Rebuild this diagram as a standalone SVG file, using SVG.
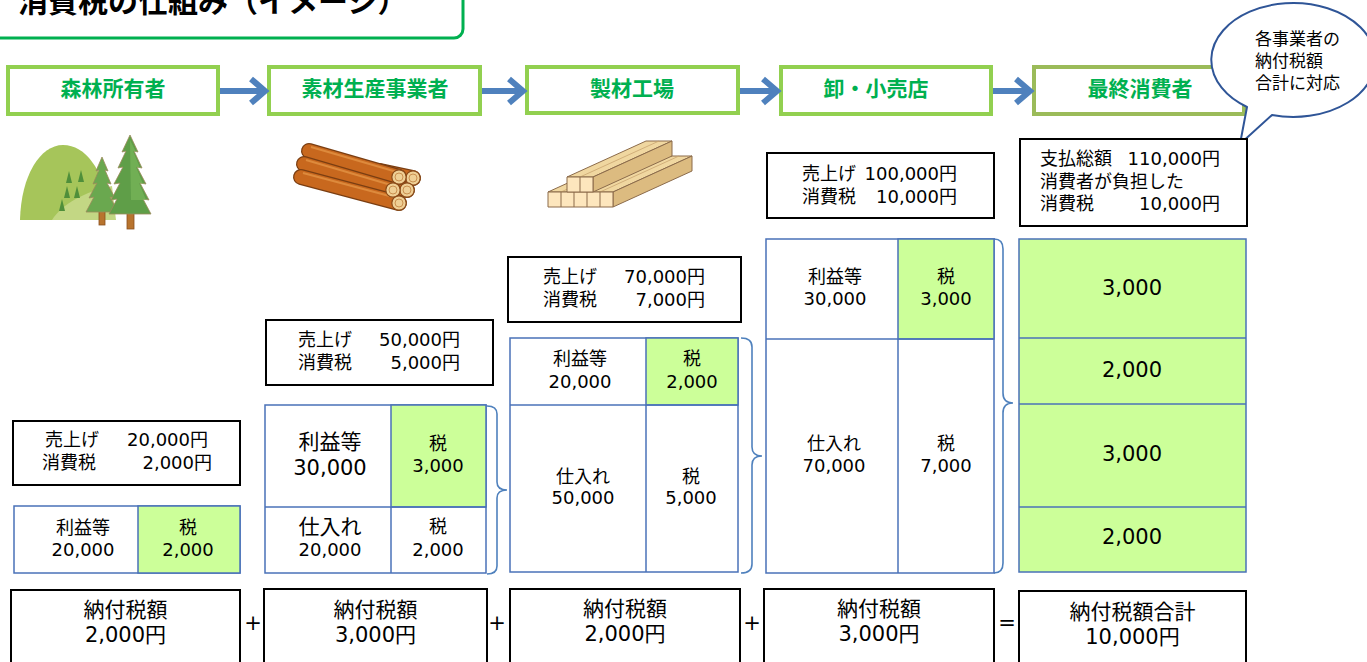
<svg xmlns="http://www.w3.org/2000/svg" width="1367" height="662" viewBox="0 0 1367 662">
  <style>
    text { font-family: "DejaVu Sans", "Noto Sans CJK JP", sans-serif; fill: #000; }
    .title { font-family: "Noto Sans CJK JP", sans-serif; font-weight: bold; font-size: 30px; }
    .hdr rect { fill: #fff; stroke: #92d050; stroke-width: 4; }
    .hdr text { font-family: "Noto Sans CJK JP", sans-serif; font-weight: bold; font-size: 21px; fill: #00b050; text-anchor: middle; }
    .box { fill: #fff; stroke: #000; stroke-width: 2; }
    .cell { fill: #fff; stroke: #4a72b8; stroke-width: 1.5; }
    .tax { fill: #ccff99; stroke: #4a72b8; stroke-width: 1.5; }
    .div { stroke: #4a72b8; stroke-width: 1.5; }
    .brace { fill: none; stroke: #4f81bd; stroke-width: 1.6; }
    .arrow { fill: none; stroke: #4f81bd; stroke-width: 6; }
    .f17 { font-size: 17px; }
    .f18 { font-size: 18px; }
    .f21 { font-size: 21px; }
    .mid { text-anchor: middle; }
    .end { text-anchor: end; }
    .log { stroke-linecap: round; fill: none; }
    .logend { fill: #efcf95; stroke: #8a4a18; stroke-width: 1.2; }
    .ring { fill: none; stroke: #c99050; stroke-width: 1; }
    .wood { stroke: #8b6b4b; stroke-width: 1; stroke-linejoin: round; }
  </style>

  <!-- title frame -->
  <g id="title">
    <rect x="-20" y="-20" width="483" height="58" rx="9" fill="#fff" stroke="#00b050" stroke-width="3"/>
    <text class="title" x="18" y="12">消費税の仕組み（イメージ）</text>
  </g>

  <!-- stage headers -->
  <g id="hdr-forest" class="hdr">
    <rect x="8" y="67" width="210" height="47"/>
    <text x="113" y="95.5">森林所有者</text>
  </g>
  <g id="hdr-logging" class="hdr">
    <rect x="269" y="67" width="211" height="47"/>
    <text x="375" y="95.5">素材生産事業者</text>
  </g>
  <g id="hdr-sawmill" class="hdr">
    <rect x="527" y="67" width="211" height="46"/>
    <text x="632" y="95.5">製材工場</text>
  </g>
  <g id="hdr-retail" class="hdr">
    <rect x="781" y="67" width="210" height="47"/>
    <text x="876" y="95.5">卸・小売店</text>
  </g>
  <g id="hdr-consumer" class="hdr">
    <rect x="1034" y="67" width="210" height="47" style="stroke:#9bbb59"/>
    <text x="1140" y="95.5">最終消費者</text>
  </g>

  <!-- flow arrows and braces -->
  <g id="connectors">
    <line class="arrow" x1="220" y1="91" x2="264" y2="91"/>
    <polyline class="arrow" points="251,79 265,91 251,103"/>
    <line class="arrow" x1="482" y1="91" x2="522" y2="91"/>
    <polyline class="arrow" points="509,79 523,91 509,103"/>
    <line class="arrow" x1="740" y1="91" x2="776" y2="91"/>
    <polyline class="arrow" points="763,79 777,91 763,103"/>
    <line class="arrow" x1="993" y1="91" x2="1029" y2="91"/>
    <polyline class="arrow" points="1016,79 1030,91 1016,103"/>

    <path class="brace" d="M487,406 Q497,406 497,414 L497,482 Q497,490 507,490 Q497,490 497,498 L497,566 Q497,574 487,574"/>
    <path class="brace" d="M741,338 Q752,338 752,347 L752,447 Q752,456 762,456 Q752,456 752,465 L752,564 Q752,573 741,573"/>
    <path class="brace" d="M994,239 Q1003,239 1003,249 L1003,393 Q1003,403 1013,403 Q1003,403 1003,413 L1003,563 Q1003,573 994,573"/>
  </g>

  <!-- speech bubble -->
  <g id="bubble">
    <path d="M1247,107 L1240,144 L1272,115 A82,57 0 1 0 1247,107 Z" fill="#fff" stroke="#2f5597" stroke-width="2" stroke-linejoin="round"/>
    <text class="f17" x="1255" y="45">各事業者の</text>
    <text class="f17" x="1255" y="67">納付税額</text>
    <text class="f17" x="1255" y="89">合計に対応</text>
  </g>

  <!-- forest -->
  <g id="icon-forest">
    <path d="M20,220 C21,176 40,145 63,145 C86,145 102,170 110,205 L112,220 Z" fill="#a6c55a"/>
    <path d="M52,220 C62,204 84,192 112,186 L116,220 Z" fill="#c3d784"/>
    <g fill="#4f8f3a">
      <path d="M69,171 L72,183 L66,183 Z"/>
      <path d="M81,170 L84,182 L78,182 Z"/>
      <path d="M67,186 L70,198 L64,198 Z"/>
      <path d="M77,186 L80,198 L74,198 Z"/>
      <path d="M62,199 L65,211 L59,211 Z"/>
    </g>
    <rect x="99" y="205" width="6" height="20" fill="#b8742e" stroke="#8a5020" stroke-width="0.8"/>
    <polygon points="102,157 108,171 105,170 111,184 107,183 115,198 110,197 118,212 86,212 94,197 89,198 97,183 93,184 99,170 96,171" fill="#6aa84f" stroke="#9a8a5a" stroke-width="0.8"/>
    <rect x="127" y="205" width="7" height="24" fill="#b8742e" stroke="#8a5020" stroke-width="0.8"/>
    <polygon points="130,135 138,152 134,151 142,168 137,167 146,184 140,183 149,200 143,199 151,214 109,214 117,199 111,200 120,183 114,184 123,167 118,168 126,151 122,152" fill="#5f9e48" stroke="#9a8a5a" stroke-width="0.8"/>
    <polygon points="130,140 136,152 133,151 140,168 136,167 143,184 139,183 146,200 131,200" fill="#79b65a" opacity="0.7"/>
  </g>

  <!-- log pile -->
  <g id="icon-logs">
    <line class="log" x1="380" y1="171" x2="413" y2="178" stroke="#7a3e12" stroke-width="16"/>
    <line class="log" x1="380" y1="171" x2="413" y2="178" stroke="#c8681e" stroke-width="13.5"/>
    <line class="log" x1="380" y1="183" x2="407" y2="190" stroke="#7a3e12" stroke-width="16"/>
    <line class="log" x1="380" y1="183" x2="407" y2="190" stroke="#c8681e" stroke-width="13.5"/>
    <line class="log" x1="309" y1="151" x2="399" y2="177" stroke="#7a3e12" stroke-width="16"/>
    <line class="log" x1="309" y1="151" x2="399" y2="177" stroke="#c8681e" stroke-width="13.5"/>
    <line x1="311" y1="147" x2="397" y2="172" stroke="#dd8a3c" stroke-width="2"/>
    <line class="log" x1="304" y1="164" x2="393" y2="190" stroke="#7a3e12" stroke-width="16"/>
    <line class="log" x1="304" y1="164" x2="393" y2="190" stroke="#c8681e" stroke-width="13.5"/>
    <line x1="306" y1="160" x2="391" y2="185" stroke="#dd8a3c" stroke-width="2"/>
    <line class="log" x1="301" y1="177" x2="399" y2="203" stroke="#7a3e12" stroke-width="16"/>
    <line class="log" x1="301" y1="177" x2="399" y2="203" stroke="#c8681e" stroke-width="13.5"/>
    <line x1="303" y1="173" x2="397" y2="198" stroke="#dd8a3c" stroke-width="2"/>
    <circle class="logend" cx="413" cy="178" r="7.2"/><circle class="ring" cx="413" cy="178" r="4"/>
    <circle class="logend" cx="407" cy="190" r="7.2"/><circle class="ring" cx="407" cy="190" r="4"/>
    <circle class="logend" cx="399" cy="177" r="7.2"/><circle class="ring" cx="399" cy="177" r="4"/>
    <circle class="logend" cx="393" cy="190" r="7.2"/><circle class="ring" cx="393" cy="190" r="4"/>
    <circle class="logend" cx="399" cy="203" r="7.2"/><circle class="ring" cx="399" cy="203" r="4"/>
  </g>

  <!-- sawn lumber -->
  <g id="icon-lumber">
    <polygon class="wood" points="548,192 613,192 692,156 627,156" fill="#f0d7a0"/>
    <g stroke="#c9a470" stroke-width="0.8">
      <line x1="561" y1="192" x2="640" y2="156"/>
      <line x1="574" y1="192" x2="653" y2="156"/>
      <line x1="587" y1="192" x2="666" y2="156"/>
      <line x1="600" y1="192" x2="679" y2="156"/>
    </g>
    <polygon class="wood" points="613,192 613,207 692,171 692,156" fill="#dcbb80"/>
    <rect class="wood" x="548" y="192" width="65" height="15" fill="#fde6bd"/>
    <g class="wood">
      <line x1="561" y1="192" x2="561" y2="207"/>
      <line x1="574" y1="192" x2="574" y2="207"/>
      <line x1="587" y1="192" x2="587" y2="207"/>
      <line x1="600" y1="192" x2="600" y2="207"/>
    </g>
    <polygon class="wood" points="567,177 593,177 672,141 646,141" fill="#f0d7a0"/>
    <line x1="580" y1="177" x2="659" y2="141" stroke="#c9a470" stroke-width="0.8"/>
    <polygon class="wood" points="593,177 593,192 672,156 672,141" fill="#dcbb80"/>
    <rect class="wood" x="567" y="177" width="26" height="15" fill="#fde6bd"/>
    <line class="wood" x1="580" y1="177" x2="580" y2="192"/>
  </g>

  <!-- stage 1: forest owner -->
  <g id="sales-forest">
    <rect class="box" x="13" y="421" width="227" height="64"/>
    <text class="f18" x="45" y="445.5">売上げ</text>
    <text class="f18 end" x="208" y="445.5">20,000円</text>
    <text class="f18" x="42" y="468.5">消費税</text>
    <text class="f18 end" x="212" y="468.5">2,000円</text>
  </g>
  <g id="value-forest">
    <rect class="cell" x="14" y="506" width="226" height="67"/>
    <rect class="tax" x="138" y="506" width="102" height="67"/>
    <text class="f18 mid" x="83" y="533.5">利益等</text>
    <text class="f18 mid" x="83" y="555.5">20,000</text>
    <text class="f18 mid" x="188" y="533.5">税</text>
    <text class="f18 mid" x="188" y="555.5">2,000</text>
  </g>

  <!-- stage 2: logging -->
  <g id="sales-logging">
    <rect class="box" x="266" y="320" width="227" height="65"/>
    <text class="f18" x="298" y="345.5">売上げ</text>
    <text class="f18 end" x="460" y="345.5">50,000円</text>
    <text class="f18" x="298" y="368.5">消費税</text>
    <text class="f18 end" x="460" y="368.5">5,000円</text>
  </g>
  <g id="value-logging">
    <rect class="cell" x="265" y="405" width="221" height="168"/>
    <rect class="tax" x="391" y="405" width="95" height="102"/>
    <line class="div" x1="265" y1="507" x2="486" y2="507"/>
    <line class="div" x1="391" y1="507" x2="391" y2="573"/>
    <text class="f21 mid" x="330" y="448.5">利益等</text>
    <text class="f21 mid" x="330" y="474.5">30,000</text>
    <text class="f18 mid" x="438" y="449.5">税</text>
    <text class="f18 mid" x="438" y="471.5">3,000</text>
    <text class="f21 mid" x="330" y="533.5">仕入れ</text>
    <text class="f18 mid" x="330" y="555.5">20,000</text>
    <text class="f18 mid" x="438" y="532.5">税</text>
    <text class="f18 mid" x="438" y="555.5">2,000</text>
  </g>

  <!-- stage 3: sawmill -->
  <g id="sales-sawmill">
    <rect class="box" x="508" y="257" width="233" height="65"/>
    <text class="f18" x="543" y="282.5">売上げ</text>
    <text class="f18 end" x="705" y="282.5">70,000円</text>
    <text class="f18" x="543" y="305.5">消費税</text>
    <text class="f18 end" x="705" y="305.5">7,000円</text>
  </g>
  <g id="value-sawmill">
    <rect class="cell" x="510" y="338" width="228" height="234"/>
    <rect class="tax" x="646" y="338" width="92" height="67"/>
    <line class="div" x1="510" y1="405" x2="738" y2="405"/>
    <line class="div" x1="646" y1="405" x2="646" y2="572"/>
    <text class="f18 mid" x="580" y="364.5">利益等</text>
    <text class="f18 mid" x="580" y="387.5">20,000</text>
    <text class="f18 mid" x="692" y="364.5">税</text>
    <text class="f18 mid" x="692" y="387.5">2,000</text>
    <text class="f18 mid" x="583" y="482.5">仕入れ</text>
    <text class="f18 mid" x="583" y="503.5">50,000</text>
    <text class="f18 mid" x="691" y="482.5">税</text>
    <text class="f18 mid" x="691" y="503.5">5,000</text>
  </g>

  <!-- stage 4: wholesale / retail -->
  <g id="sales-retail">
    <rect class="box" x="767" y="153" width="227" height="65"/>
    <text class="f18" x="802" y="179.5">売上げ</text>
    <text class="f18 end" x="957" y="179.5">100,000円</text>
    <text class="f18" x="802" y="202.5">消費税</text>
    <text class="f18 end" x="957" y="202.5">10,000円</text>
  </g>
  <g id="value-retail">
    <rect class="cell" x="766" y="239" width="228" height="334"/>
    <rect class="tax" x="898" y="239" width="96" height="100"/>
    <line class="div" x1="766" y1="339" x2="994" y2="339"/>
    <line class="div" x1="898" y1="339" x2="898" y2="573"/>
    <text class="f18 mid" x="835" y="282.5">利益等</text>
    <text class="f18 mid" x="835" y="304.5">30,000</text>
    <text class="f18 mid" x="946" y="282.5">税</text>
    <text class="f18 mid" x="946" y="304.5">3,000</text>
    <text class="f18 mid" x="834" y="449.5">仕入れ</text>
    <text class="f18 mid" x="834" y="471.5">70,000</text>
    <text class="f18 mid" x="946" y="449.5">税</text>
    <text class="f18 mid" x="946" y="471.5">7,000</text>
  </g>

  <!-- stage 5: final consumer -->
  <g id="paid-consumer">
    <rect class="box" x="1020" y="139" width="227" height="87"/>
    <text class="f18" x="1040" y="164.5">支払総額</text>
    <text class="f18 end" x="1220" y="164.5">110,000円</text>
    <text class="f18" x="1040" y="187.5">消費者が負担した</text>
    <text class="f18" x="1040" y="209.5">消費税</text>
    <text class="f18 end" x="1220" y="209.5">10,000円</text>
  </g>
  <g id="tax-stack">
    <rect class="tax" x="1019" y="239" width="227" height="333"/>
    <line class="div" x1="1019" y1="338" x2="1246" y2="338"/>
    <line class="div" x1="1019" y1="404" x2="1246" y2="404"/>
    <line class="div" x1="1019" y1="507" x2="1246" y2="507"/>
    <text class="f21 mid" x="1132" y="294.5">3,000</text>
    <text class="f21 mid" x="1132" y="376.5">2,000</text>
    <text class="f21 mid" x="1132" y="460.5">3,000</text>
    <text class="f21 mid" x="1132" y="543.5">2,000</text>
  </g>

  <!-- tax paid by each business -->
  <g id="paid-forest">
    <rect class="box" x="11" y="590" width="229" height="90"/>
    <text class="f21 mid" x="125.5" y="616.5">納付税額</text>
    <text class="f21 mid" x="125.5" y="641.5">2,000円</text>
  </g>
  <g id="paid-logging">
    <rect class="box" x="264" y="589" width="223" height="90"/>
    <text class="f21 mid" x="375.5" y="616.5">納付税額</text>
    <text class="f21 mid" x="375.5" y="641.5">3,000円</text>
  </g>
  <g id="paid-sawmill">
    <rect class="box" x="510" y="589" width="230" height="90"/>
    <text class="f21 mid" x="625" y="615.5">納付税額</text>
    <text class="f21 mid" x="625" y="640.5">2,000円</text>
  </g>
  <g id="paid-retail">
    <rect class="box" x="764" y="589" width="230" height="90"/>
    <text class="f21 mid" x="879" y="615.5">納付税額</text>
    <text class="f21 mid" x="879" y="640.5">3,000円</text>
  </g>
  <g id="paid-total">
    <rect class="box" x="1019" y="591" width="227" height="90"/>
    <text class="f21 mid" x="1132.5" y="618.5">納付税額合計</text>
    <text class="f21 mid" x="1132.5" y="643.5">10,000円</text>
  </g>
  <g id="operators">
    <text class="f21 mid" x="253" y="629.5">+</text>
    <text class="f21 mid" x="497" y="629.5">+</text>
    <text class="f21 mid" x="752" y="629.5">+</text>
    <text class="f21 mid" x="1007" y="629.5">=</text>
  </g>
</svg>
